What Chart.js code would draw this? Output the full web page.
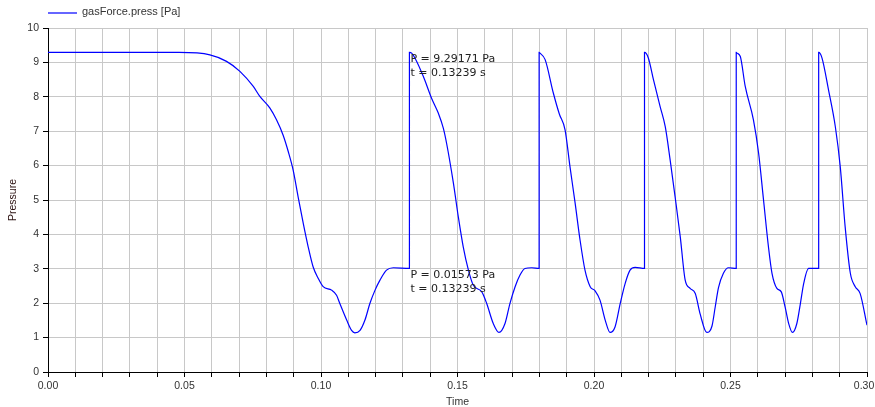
<!DOCTYPE html>
<html>
<head>
<meta charset="utf-8">
<script src="https://cdn.jsdelivr.net/npm/chart.js@4/dist/chart.umd.min.js"></script>
<style>
  html, body { margin: 0; padding: 0; background: #fff; }
  #wrap { width: 875px; height: 407px; }
</style>
</head>
<body>
<div id="wrap"><canvas id="chart"></canvas></div>
<script>
// gasForce.press over time
const seriesLabel = 'gasForce.press [Pa]';

const timeValues = [
    0, 0.048, 0.0593, 0.0654, 0.0703, 0.0752, 0.0776, 0.0813, 0.0837, 0.0861, 0.088, 0.0898,
    0.0916, 0.0935, 0.0953, 0.0971, 0.099, 0.1008, 0.1039, 0.1057, 0.1069, 0.1094, 0.1112,
    0.1124, 0.1143, 0.1161, 0.1179, 0.1198, 0.1216, 0.124, 0.1265, 0.13239, 0.13239,
    0.1332, 0.1344, 0.1375, 0.1405, 0.143, 0.1448, 0.146, 0.1485, 0.1503, 0.1521, 0.154,
    0.1558, 0.1589, 0.1607, 0.1631, 0.1652, 0.1674, 0.1692, 0.1711, 0.1729, 0.1747, 0.1772,
    0.1799, 0.1799,
    0.1802, 0.1821, 0.1851, 0.1873, 0.1894, 0.1912, 0.1931, 0.1949, 0.1967, 0.1986, 0.2004,
    0.2022, 0.2041, 0.2059, 0.2077, 0.2096, 0.2114, 0.2132, 0.2151, 0.2185, 0.2185,
    0.2199, 0.2218, 0.2242, 0.2261, 0.2279, 0.2297, 0.2316, 0.2334, 0.2352, 0.2371, 0.2389,
    0.2413, 0.2432, 0.2444, 0.2456, 0.2474, 0.2493, 0.2521, 0.2521,
    0.2524, 0.2536, 0.2554, 0.2584, 0.2603, 0.2621, 0.2639, 0.2652, 0.267, 0.2686, 0.27,
    0.2713, 0.2727, 0.2743, 0.2756, 0.2768, 0.2786, 0.2823, 0.2823,
    0.2835, 0.2859, 0.2884, 0.2902, 0.292, 0.2939, 0.2957, 0.2975, 0.30
];

const pressureValues = [
    9.29, 9.29, 9.22, 9.03, 8.74, 8.30, 8.01, 7.67, 7.33, 6.89, 6.41, 5.87,
    5.10, 4.32, 3.64, 3.06, 2.72, 2.48, 2.38, 2.23, 1.99, 1.51, 1.21,
    1.14, 1.21, 1.51, 1.99, 2.38, 2.67, 2.96, 3.03, 3.01, 9.29,
    9.27, 9.13, 8.59, 7.96, 7.52, 7.09, 6.65, 5.49, 4.51, 3.64, 2.96,
    2.52, 2.33, 1.99, 1.41, 1.15, 1.41, 1.99, 2.48, 2.82, 3.01, 3.03,
    3.01, 9.29,
    9.27, 9.08, 8.11, 7.50, 7.04, 5.97, 4.90, 3.83, 2.96, 2.48, 2.36,
    2.09, 1.51, 1.15, 1.31, 1.99, 2.57, 2.96, 3.04, 3.01, 9.29,
    9.13, 8.49, 7.72, 7.13, 6.16, 5.10, 3.93, 2.67, 2.43, 2.28, 1.68,
    1.15, 1.33, 1.89, 2.45, 2.87, 3.03, 3.01, 9.29,
    9.27, 9.17, 8.30, 7.33, 6.36, 5.00, 3.64, 2.87, 2.43, 2.33, 1.89,
    1.41, 1.15, 1.41, 1.99, 2.57, 3.01, 3.01, 9.29,
    9.13, 8.20, 7.13, 5.97, 4.22, 2.87, 2.48, 2.28, 1.36
];

// cursor readouts shown on the plot
const markerTime = 0.13239;
const markerTop = 9.29;
const markerBottom = 3.01;
const markerTopText = ['P = 9.29171 Pa', 't = 0.13239 s'];
const markerBottomText = ['P = 0.01573 Pa', 't = 0.13239 s'];

const xMin = 0, xMax = 0.30, xStep = 0.01;
const yMin = 0, yMax = 10, yStep = 1;

const lineColor = '#0000ff';
const gridColor = '#c8c8c8';
const textColor = '#333333';
const axisFont = { family: 'Liberation Sans, Arial, sans-serif', size: 10.5 };

const points = timeValues.map((t, i) => ({ x: t, y: pressureValues[i] }));

// draws the legend row and the two cursor readouts
const overlayPlugin = {
    id: 'overlay',
    afterDraw(chart) {
        const ctx = chart.ctx;
        const xs = chart.scales.x;
        const ys = chart.scales.y;
        ctx.save();

        // legend
        ctx.strokeStyle = 'rgba(0, 0, 255, 0.6)';
        ctx.lineWidth = 2;
        ctx.beginPath();
        ctx.moveTo(chart.chartArea.left, 13);
        ctx.lineTo(chart.chartArea.left + 29, 13);
        ctx.stroke();
        ctx.fillStyle = textColor;
        ctx.font = '11px "Liberation Sans", Arial, sans-serif';
        ctx.textBaseline = 'middle';
        ctx.textAlign = 'left';
        ctx.fillText(seriesLabel, chart.chartArea.left + 34, 12);

        // readouts
        ctx.font = '11px "DejaVu Sans", sans-serif';
        ctx.fillStyle = '#222222';
        const px = xs.getPixelForValue(markerTime) + 1;
        const topY = ys.getPixelForValue(markerTop);
        const botY = ys.getPixelForValue(markerBottom);
        markerTopText.forEach((s, i) => ctx.fillText(s, px, topY + 7 + i * 13.5));
        markerBottomText.forEach((s, i) => ctx.fillText(s, px, botY + 7 + i * 13.5));
        ctx.restore();
    }
};

function timeTickLabel(v) {
    const hundredths = Math.round(v * 100);
    if (hundredths % 5 !== 0) return '';
    // last label would run off the canvas edge, nudge it left with trailing spaces
    return hundredths === Math.round(xMax * 100) ? v.toFixed(2) + '  ' : v.toFixed(2);
}

new Chart(document.getElementById('chart'), {
    type: 'line',
    data: {
        datasets: [{
            label: seriesLabel,
            data: points,
            borderColor: lineColor,
            borderWidth: 1.2,
            pointRadius: 0,
            fill: false,
            cubicInterpolationMode: 'monotone'
        }]
    },
    options: {
        responsive: true,
        maintainAspectRatio: false,
        animation: false,
        layout: { padding: { top: 28, right: 8, left: 0, bottom: 0 } },
        plugins: {
            legend: { display: false },
            tooltip: { enabled: false }
        },
        scales: {
            x: {
                type: 'linear',
                min: xMin,
                max: xMax,
                afterFit(scale) {
                    scale.height = 35;
                    scale.paddingLeft = 0;
                    scale.paddingRight = 0;
                },
                ticks: {
                    stepSize: xStep,
                    autoSkip: false,
                    maxRotation: 0,
                    padding: 3,
                    color: textColor,
                    font: axisFont,
                    callback: timeTickLabel
                },
                grid: { color: gridColor, tickColor: '#000', tickLength: 5 },
                border: { color: '#000', width: 1 },
                title: {
                    display: true,
                    text: 'Time',
                    color: textColor,
                    font: axisFont,
                    padding: { top: 0, bottom: -1.5 }
                }
            },
            y: {
                min: yMin,
                max: yMax,
                afterFit(scale) {
                    scale.width = 48;
                    scale.paddingTop = 0;
                    scale.paddingBottom = 0;
                },
                ticks: {
                    stepSize: yStep,
                    padding: 4,
                    color: textColor,
                    font: axisFont
                },
                grid: { color: gridColor, tickColor: '#000', tickLength: 5 },
                border: { color: '#000', width: 1 },
                title: {
                    display: true,
                    text: 'Pressure',
                    color: '#2a1010',
                    font: axisFont,
                    padding: { top: 7, bottom: 0 }
                }
            }
        }
    },
    plugins: [overlayPlugin]
});
</script>
</body>
</html>
